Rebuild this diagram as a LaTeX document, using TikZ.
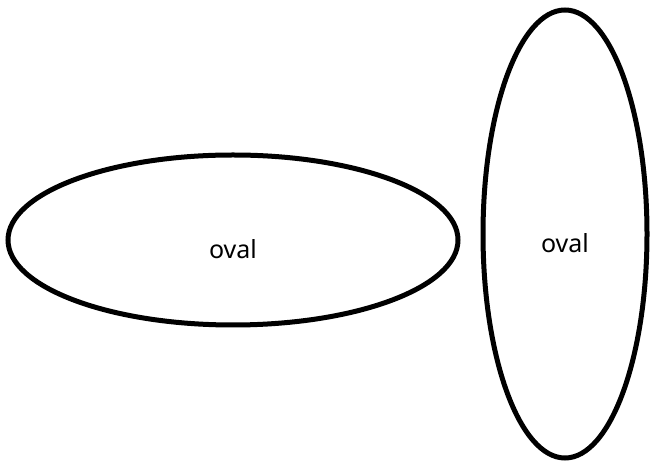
\documentclass[tikz,border=0pt]{standalone}
\usepackage{fontspec}
\setmainfont{Noto Sans}
\usetikzlibrary{shapes.geometric}
\tikzset{
 ovalshape/.style={ellipse, draw, line width=5pt, inner sep=0pt},
 ovaltext/.style={font=\fontsize{25}{30}\selectfont}
}
\begin{document}
\begin{tikzpicture}[x=1pt,y=1pt]
 \useasboundingbox (0,0) rectangle (652,462);

 % wide oval
 \node[ovalshape, minimum width=450pt, minimum height=170pt] (ovalA) at (233,222) {};
 \node[ovaltext] (labelA) at ([yshift=-9pt]ovalA.center) {oval};

 % tall oval
 \node[ovalshape, minimum width=164pt, minimum height=448pt] (ovalB) at (565,228) {};
 \node[ovaltext] (labelB) at ([yshift=-9pt]ovalB.center) {oval};
\end{tikzpicture}
\end{document}
